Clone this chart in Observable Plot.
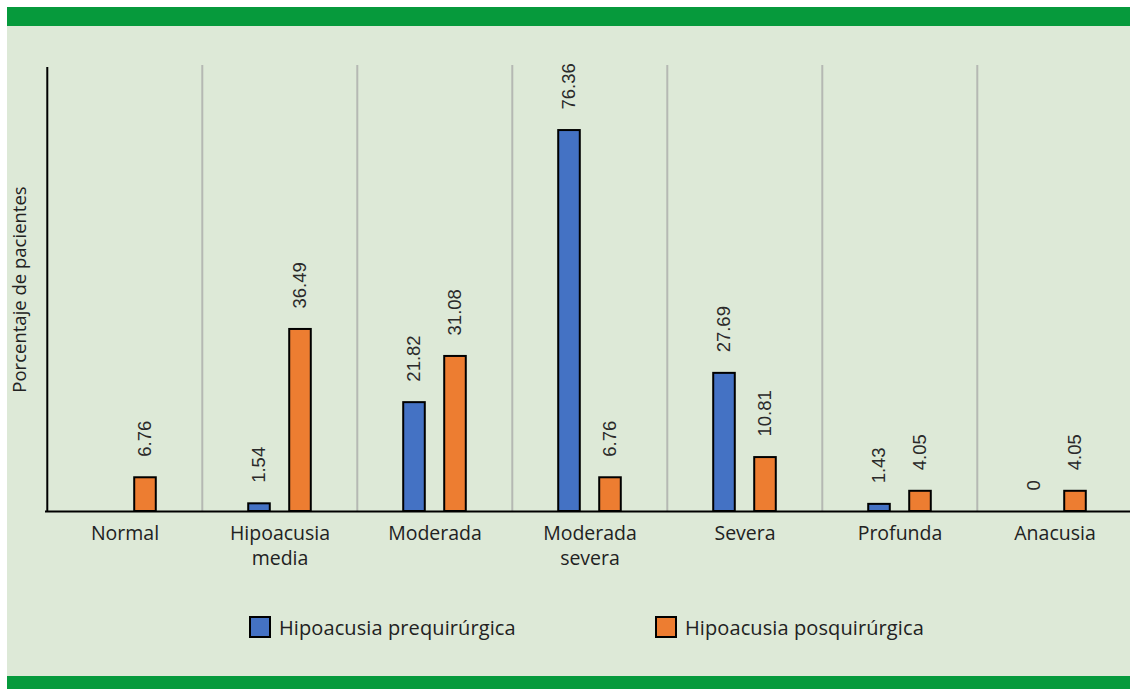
<!DOCTYPE html>
<html>
<head>
<meta charset="utf-8">
<script src="https://cdn.jsdelivr.net/npm/d3@7"></script>
<script src="https://cdn.jsdelivr.net/npm/@observablehq/plot@0.6"></script>
<style>
  html, body { margin: 0; padding: 0; background: #ffffff; }
  #page { position: absolute; left: 7px; top: 7px; width: 1123px; height: 682px; background: #dde9d7; overflow: hidden; }
  .band { background: #069a3c; width: 100%; }
  #top { height: 19px; }
  #bottom { position: absolute; left: 0; top: 669px; height: 13px; }
  #chart svg { display: block; overflow: visible; }
  #legend { position: absolute; left: 0; top: 609px; width: 100%; height: 22px;
            font-family: "Open Sans", Lato, sans-serif; font-weight: 400; font-size: 20px;
            letter-spacing: 0.1px; color: #222; }
  .item { position: absolute; top: 0; display: flex; align-items: center; height: 22px; }
  .sw { width: 18px; height: 18px; border: 2px solid #000; margin-right: 8px; }
</style>
</head>
<body>
<div id="page">
  <div id="top" class="band"></div>
  <div id="chart"></div>
  <div id="legend"></div>
  <div id="bottom" class="band"></div>
</div>
<script>
// Hearing loss categories (axis labels) and percentage of patients per series
const categories = ["Normal", "Hipoacusia media", "Moderada", "Moderada severa", "Severa", "Profunda", "Anacusia"];
const tickLabels = ["Normal", "Hipoacusia\nmedia", "Moderada", "Moderada\nsevera", "Severa", "Profunda", "Anacusia"];
const seriesNames = ["Hipoacusia prequirúrgica", "Hipoacusia posquirúrgica"];
const preValues = [null, 1.54, 21.82, 76.36, 27.69, 1.43, 0];
const postValues = [6.76, 36.49, 31.08, 6.76, 10.81, 4.05, 4.05];
const colors = ["#4472c4", "#ed7d31"];

const rows = [];
categories.forEach((c, i) => {
  if (preValues[i] !== null) rows.push({cat: c, series: seriesNames[0], value: preValues[i]});
  rows.push({cat: c, series: seriesNames[1], value: postValues[i]});
});
const pre = rows.filter(d => d.series === seriesNames[0]);
const post = rows.filter(d => d.series === seriesNames[1]);

const W = 1123, H = 560;
const xRange = [38, 1126];
const bw = (xRange[1] - xRange[0]) / categories.length;
const barW = 22, off = 20.5;
const inset = (bw - barW) / 2;
const textFont = "'Open Sans', Lato, sans-serif";
const numFont = "'Liberation Sans', Arial, sans-serif";

const plot = Plot.plot({
  width: W,
  height: H,
  marginTop: 41,
  marginBottom: 75,
  marginLeft: 38,
  marginRight: 0,
  style: {background: "transparent", fontFamily: textFont, color: "#222"},
  x: {domain: categories, range: xRange, padding: 0, axis: null},
  y: {domain: [0, 89], axis: null},
  marks: [
    // vertical separators between categories
    Plot.ruleX(categories.slice(1), {x: d => d, dx: -bw / 2, stroke: "#b5b8b3", strokeWidth: 2, insetTop: -2}),
    // bars
    Plot.barY(pre, {x: "cat", y: "value", fill: colors[0], stroke: "#000", strokeWidth: 2,
      insetLeft: inset - off, insetRight: inset + off}),
    Plot.barY(post, {x: "cat", y: "value", fill: colors[1], stroke: "#000", strokeWidth: 2,
      insetLeft: inset + off, insetRight: inset - off}),
    // axes lines
    Plot.ruleX([categories[0]], {x: d => d, dx: -bw / 2, stroke: "#000", strokeWidth: 2}),
    Plot.ruleY([0], {stroke: "#000", strokeWidth: 2}),
    // value labels
    Plot.text(pre, {x: "cat", y: "value", text: d => String(d.value), dx: -off, dy: -21, rotate: -90,
      textAnchor: "start", lineAnchor: "middle", fontSize: 18.5, fontFamily: numFont, fill: "#2a2a2a"}),
    Plot.text(post, {x: "cat", y: "value", text: d => String(d.value), dx: off, dy: -21, rotate: -90,
      textAnchor: "start", lineAnchor: "middle", fontSize: 18.5, fontFamily: numFont, fill: "#2a2a2a"}),
    // category labels
    Plot.text(categories, {x: d => d, y: 0, text: d => tickLabels[categories.indexOf(d)],
      lineAnchor: "top", dy: 10, fontSize: 19.5, lineHeight: 1.3, fill: "#222"}),
    // y axis title
    Plot.text(["Porcentaje de pacientes"], {frameAnchor: "left", rotate: -90, dx: -25,
      textAnchor: "middle", lineAnchor: "middle", fontSize: 18.5, fill: "#222"})
  ]
});
document.getElementById("chart").appendChild(plot);

// legend
const legend = document.getElementById("legend");
const legendX = [242, 648];
seriesNames.forEach((name, i) => {
  const item = document.createElement("div");
  item.className = "item";
  item.style.left = legendX[i] + "px";
  const sw = document.createElement("div");
  sw.className = "sw";
  sw.style.background = colors[i];
  const label = document.createElement("span");
  label.textContent = name;
  item.appendChild(sw);
  item.appendChild(label);
  legend.appendChild(item);
});
</script>
</body>
</html>
